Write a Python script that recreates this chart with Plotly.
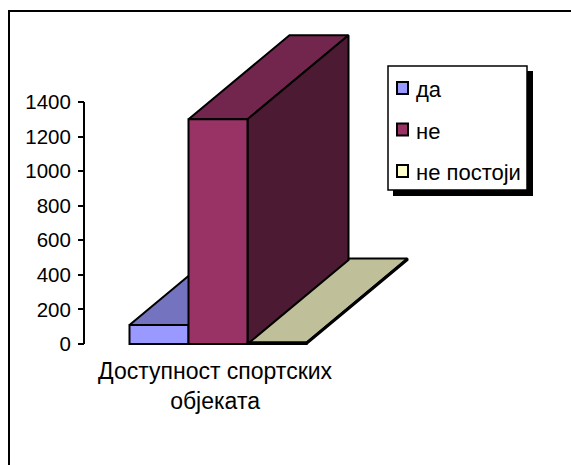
import plotly.graph_objects as go

# Data
category = "Доступност спортских<br>објеката"
series_names = ["да", "не", "не постоји"]
series_values = [110, 1300, 8]
front_colors = ["#9999FF", "#993366", "#FFFFCC"]
top_colors = ["#7373BF", "#73264D", "#BFBF99"]
side_colors = ["#4D4D80", "#4D1A33", "#808066"]
y_ticks = [0, 200, 400, 600, 800, 1000, 1200, 1400]

W, H = 571, 465
FONT = "Liberation Sans, Arial, sans-serif"
FS_TICK = 20.5
FS_CAT = 23
FS_LEG = 22
# pixel geometry of the chart area
AX_X, Y0, Y1400 = 84, 344, 102
BAR_LEFT, BAR_W = 129.5, 59
DEPTH_PX_X, DEPTH_PX_Y = 101, 84

val_per_px = 1400 / (Y0 - Y1400)
yrange = [-(H - Y0) * val_per_px, Y0 * val_per_px]
xrange_ = [(0 - BAR_LEFT) / BAR_W - 0.5, (W - BAR_LEFT) / BAR_W - 0.5]
dx = DEPTH_PX_X / BAR_W
dy = DEPTH_PX_Y * val_per_px


def px(x):
    return x / W


def py(y):
    return 1 - y / H


fig = go.Figure()
hw = 0.5


def poly(pts, color):
    xs = [p[0] for p in pts] + [pts[0][0]]
    ys = [p[1] for p in pts] + [pts[0][1]]
    fig.add_trace(go.Scatter(x=xs, y=ys, mode="lines", fill="toself", fillcolor=color,
                             line=dict(color="black", width=2), showlegend=False,
                             hoverinfo="skip"))


for i in [0, 2, 1]:
    v = series_values[i]
    poly([(i - hw, v), (i - hw + dx, v + dy), (i + hw + dx, v + dy), (i + hw, v)], top_colors[i])
    poly([(i + hw, 0), (i + hw + dx, dy), (i + hw + dx, v + dy), (i + hw, v)], side_colors[i])

for i in range(3):
    fig.add_trace(go.Bar(x=[i], y=[series_values[i]], width=1, name=series_names[i],
                         marker=dict(color=front_colors[i], line=dict(color="black", width=2)),
                         xaxis="x2", yaxis="y2", showlegend=False))

# value axis spine
spine_x = (AX_X - BAR_LEFT) / BAR_W - 0.5
fig.add_trace(go.Scatter(x=[spine_x] * 2, y=[y_ticks[0], y_ticks[-1]], mode="lines",
                         line=dict(color="black", width=2), showlegend=False, hoverinfo="skip"))

shapes = [dict(type="rect", xref="paper", yref="paper", x0=px(9), x1=px(W + 10), y0=py(H + 10), y1=py(11),
               line=dict(color="black", width=2), fillcolor="rgba(0,0,0,0)", layer="below")]
# legend box with hard shadow
LX0, LX1, LY0, LY1 = 388, 527, 66, 190
shapes.append(dict(type="rect", xref="paper", yref="paper", x0=px(LX0 + 5), x1=px(LX1 + 6), y0=py(LY1 + 6), y1=py(LY0 + 5),
                   line=dict(width=0), fillcolor="black"))
shapes.append(dict(type="rect", xref="paper", yref="paper", x0=px(LX0), x1=px(LX1), y0=py(LY1), y1=py(LY0),
                   line=dict(color="black", width=1.5), fillcolor="white"))
annotations = []
for i, name in enumerate(series_names):
    yc = 88 + i * 41.5
    shapes.append(dict(type="rect", xref="paper", yref="paper", x0=px(397), x1=px(408), y0=py(yc + 6), y1=py(yc - 6),
                       line=dict(color="black", width=2), fillcolor=front_colors[i]))
    annotations.append(dict(xref="paper", yref="paper", x=px(414), y=py(yc + 1.5), text=name, showarrow=False,
                            xanchor="left", yanchor="middle", font=dict(family=FONT, size=FS_LEG, color="black")))

fig.update_layout(
    width=W, height=H, margin=dict(l=0, r=0, t=0, b=0), autosize=False,
    paper_bgcolor="white", plot_bgcolor="white", barmode="overlay", showlegend=False,
    shapes=shapes, annotations=annotations,
    font=dict(family=FONT, size=FS_TICK, color="black"),
    xaxis=dict(range=xrange_, domain=[0, 1], anchor="free", position=py(Y0), showgrid=False, zeroline=False,
               showline=False, ticks="", tickmode="array", tickvals=[0.95], ticktext=[category],
               ticklabelstandoff=11, tickfont=dict(family=FONT, size=FS_CAT)),
    yaxis=dict(range=yrange, domain=[0, 1], anchor="free", position=px(AX_X), showgrid=False, zeroline=False,
               showline=False, ticks="outside", ticklen=6, tickwidth=2, tickcolor="black",
               ticklabelstandoff=3, tickmode="array", tickvals=y_ticks, tickfont=dict(family=FONT, size=FS_TICK)),
    xaxis2=dict(range=xrange_, overlaying="x", visible=False, anchor="y2"),
    yaxis2=dict(range=yrange, overlaying="y", visible=False, anchor="x2"),
)
fig.write_html("out.html", config={"displayModeBar": False}, post_script="document.body.style.margin='0';")
